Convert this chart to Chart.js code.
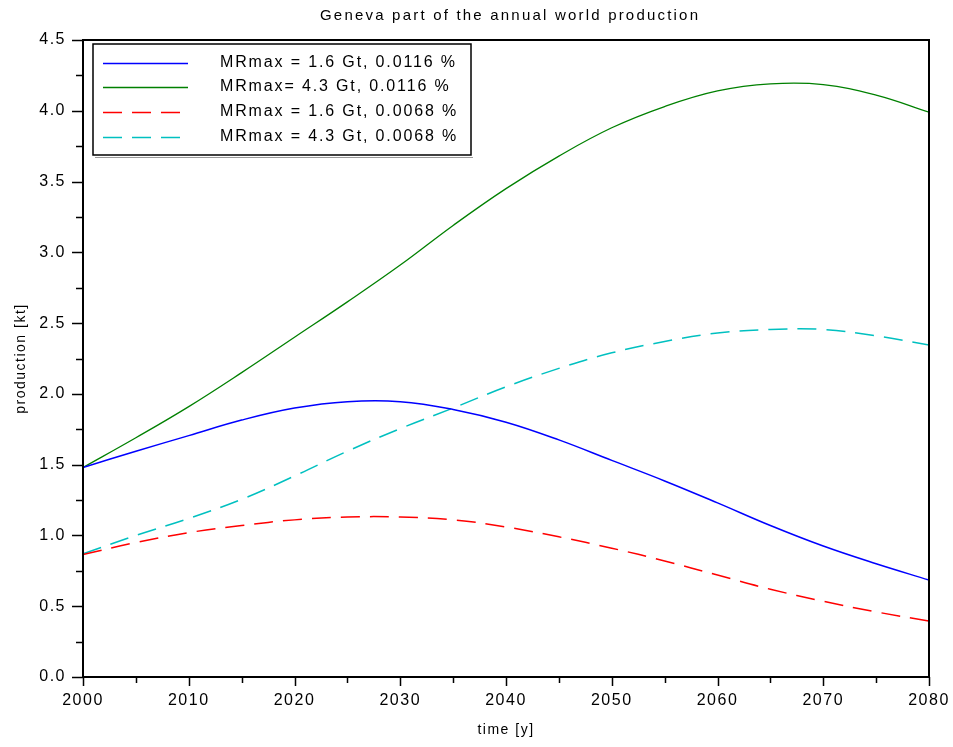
<!DOCTYPE html>
<html>
<head>
<meta charset="utf-8">
<script src="https://cdn.jsdelivr.net/npm/chart.js@4.4.0/dist/chart.umd.min.js"></script>
<style>
  html, body { margin: 0; padding: 0; background: #fff; overflow: hidden; }
  #wrap { width: 953px; height: 747px; position: relative; }
  canvas { display: block; }
</style>
</head>
<body>
<div id="wrap"><canvas id="chart"></canvas></div>
<script>
const years = [2000, 2005, 2010, 2015, 2020, 2025, 2030, 2035, 2040, 2045, 2050, 2055, 2060, 2065, 2070, 2075, 2080];
const low0116 = [1.48, 1.595, 1.705, 1.815, 1.90, 1.945, 1.945, 1.89, 1.80, 1.675, 1.53, 1.385, 1.23, 1.07, 0.925, 0.80, 0.685];
const high0116 = [1.48, 1.69, 1.91, 2.15, 2.40, 2.65, 2.91, 3.19, 3.45, 3.68, 3.88, 4.03, 4.14, 4.19, 4.185, 4.11, 3.99];
const low0068 = [0.865, 0.95, 1.02, 1.07, 1.11, 1.13, 1.13, 1.11, 1.06, 0.99, 0.91, 0.82, 0.72, 0.62, 0.535, 0.46, 0.395];
const high0068 = [0.87, 1.00, 1.12, 1.255, 1.42, 1.595, 1.755, 1.90, 2.05, 2.18, 2.29, 2.37, 2.43, 2.455, 2.455, 2.41, 2.345];
const seriesLabels = ['MRmax = 1.6 Gt, 0.0116 %', 'MRmax= 4.3 Gt, 0.0116 %', 'MRmax = 1.6 Gt, 0.0068 %', 'MRmax = 4.3 Gt, 0.0068 %'];
const chartTitle = 'Geneva part of the annual world production';

const FONT = '"Liberation Sans", Arial, sans-serif';

function pts(vals) {
  return years.map((y, i) => ({ x: y, y: vals[i] }));
}

function fitSpacing(ctx, text, target) {
  ctx.letterSpacing = '0px';
  const w = ctx.measureText(text).width;
  return Math.max(0, (target - w) / (text.length - 1));
}

const framePlugin = {
  id: 'frame',
  beforeDraw(chart) {
    chart.ctx.letterSpacing = '1.5px';
  },
  afterDraw(chart) {
    const ctx = chart.ctx;
    const a = chart.chartArea;
    const xs = chart.scales.x, ys = chart.scales.y;
    ctx.save();
    ctx.strokeStyle = '#000';
    ctx.lineWidth = 2;
    ctx.strokeRect(a.left, a.top, a.right - a.left, a.bottom - a.top);

    // tick marks outside the frame
    ctx.lineWidth = 1.5;
    ctx.beginPath();
    for (let v = 0; v <= 4.5001; v += 0.25) {
      const py = Math.round(ys.getPixelForValue(v)) + 0.5;
      const major = Math.abs(v * 2 - Math.round(v * 2)) < 1e-6;
      ctx.moveTo(a.left - (major ? 11 : 7), py);
      ctx.lineTo(a.left, py);
    }
    for (let yr = 2000; yr <= 2080; yr += 5) {
      const px = Math.round(xs.getPixelForValue(yr)) + 0.5;
      const major = yr % 10 === 0;
      ctx.moveTo(px, a.bottom);
      ctx.lineTo(px, a.bottom + (major ? 9 : 6));
    }
    ctx.stroke();

    // title
    ctx.fillStyle = '#000';
    ctx.font = '15px ' + FONT;
    ctx.textAlign = 'left';
    ctx.textBaseline = 'middle';
    let sp = fitSpacing(ctx, chartTitle, 378);
    ctx.letterSpacing = sp + 'px';
    ctx.fillText(chartTitle, 320, 16);

    // legend
    const lx = 93, ly = 44, lw = 378, lh = 111;
    ctx.fillStyle = '#fff';
    ctx.fillRect(lx, ly, lw, lh);
    ctx.strokeStyle = '#999';
    ctx.lineWidth = 1;
    ctx.beginPath();
    ctx.moveTo(lx + 2, ly + lh + 2.5);
    ctx.lineTo(lx + lw + 2, ly + lh + 2.5);
    ctx.stroke();
    ctx.strokeStyle = '#000';
    ctx.lineWidth = 1.5;
    ctx.strokeRect(lx, ly, lw, lh);
    ctx.font = '16px ' + FONT;
    sp = fitSpacing(ctx, chart.data.datasets[0].label, 235);
    const rows = [63, 87, 112, 137];
    chart.data.datasets.forEach((ds, i) => {
      ctx.strokeStyle = ds.borderColor;
      ctx.lineWidth = ds.borderWidth;
      ctx.setLineDash(ds.borderDash || []);
      ctx.beginPath();
      ctx.moveTo(103, rows[i] + 0.5);
      ctx.lineTo(188, rows[i] + 0.5);
      ctx.stroke();
      ctx.setLineDash([]);
      ctx.fillStyle = '#000';
      ctx.letterSpacing = sp + 'px';
      ctx.fillText(ds.label, 220, rows[i]);
    });
    ctx.restore();
  }
};

new Chart(document.getElementById('chart'), {
  type: 'line',
  data: {
    datasets: [
      { label: seriesLabels[0], data: pts(low0116), borderColor: '#0000ff', borderWidth: 1.5 },
      { label: seriesLabels[1], data: pts(high0116), borderColor: '#008000', borderWidth: 1.3 },
      { label: seriesLabels[2], data: pts(low0068), borderColor: '#ff0000', borderWidth: 1.5, borderDash: [19, 10] },
      { label: seriesLabels[3], data: pts(high0068), borderColor: '#00c0c0', borderWidth: 1.5, borderDash: [19, 10] }
    ]
  },
  options: {
    responsive: true,
    maintainAspectRatio: false,
    animation: false,
    layout: { padding: { top: 40, right: 24, bottom: 0, left: 0 } },
    elements: { point: { radius: 0 }, line: { tension: 0.4, fill: false } },
    plugins: { legend: { display: false }, title: { display: false }, tooltip: { enabled: false } },
    scales: {
      x: {
        type: 'linear', min: 2000, max: 2080,
        grid: { display: false, drawTicks: false },
        border: { display: false },
        ticks: { stepSize: 10, color: '#000', font: { family: FONT, size: 16 }, padding: 14, maxRotation: 0, callback: v => String(v) },
        title: { display: true, text: 'time [y]', color: '#000', font: { family: FONT, size: 14 }, padding: { top: 0, bottom: 8 } },
        afterFit(s) { s.height = 70; s.paddingLeft = 0; s.paddingRight = 0; }
      },
      y: {
        min: 0, max: 4.5,
        grid: { display: false, drawTicks: false },
        border: { display: false },
        ticks: { stepSize: 0.5, color: '#000', font: { family: FONT, size: 16 }, padding: 17, callback: v => v.toFixed(1) },
        title: { display: true, text: 'production [kt]', color: '#000', font: { family: FONT, size: 14 }, padding: { top: 13, bottom: 0 } },
        afterFit(s) { s.width = 83; s.paddingTop = 0; s.paddingBottom = 0; }
      }
    }
  },
  plugins: [framePlugin]
});
</script>
</body>
</html>
